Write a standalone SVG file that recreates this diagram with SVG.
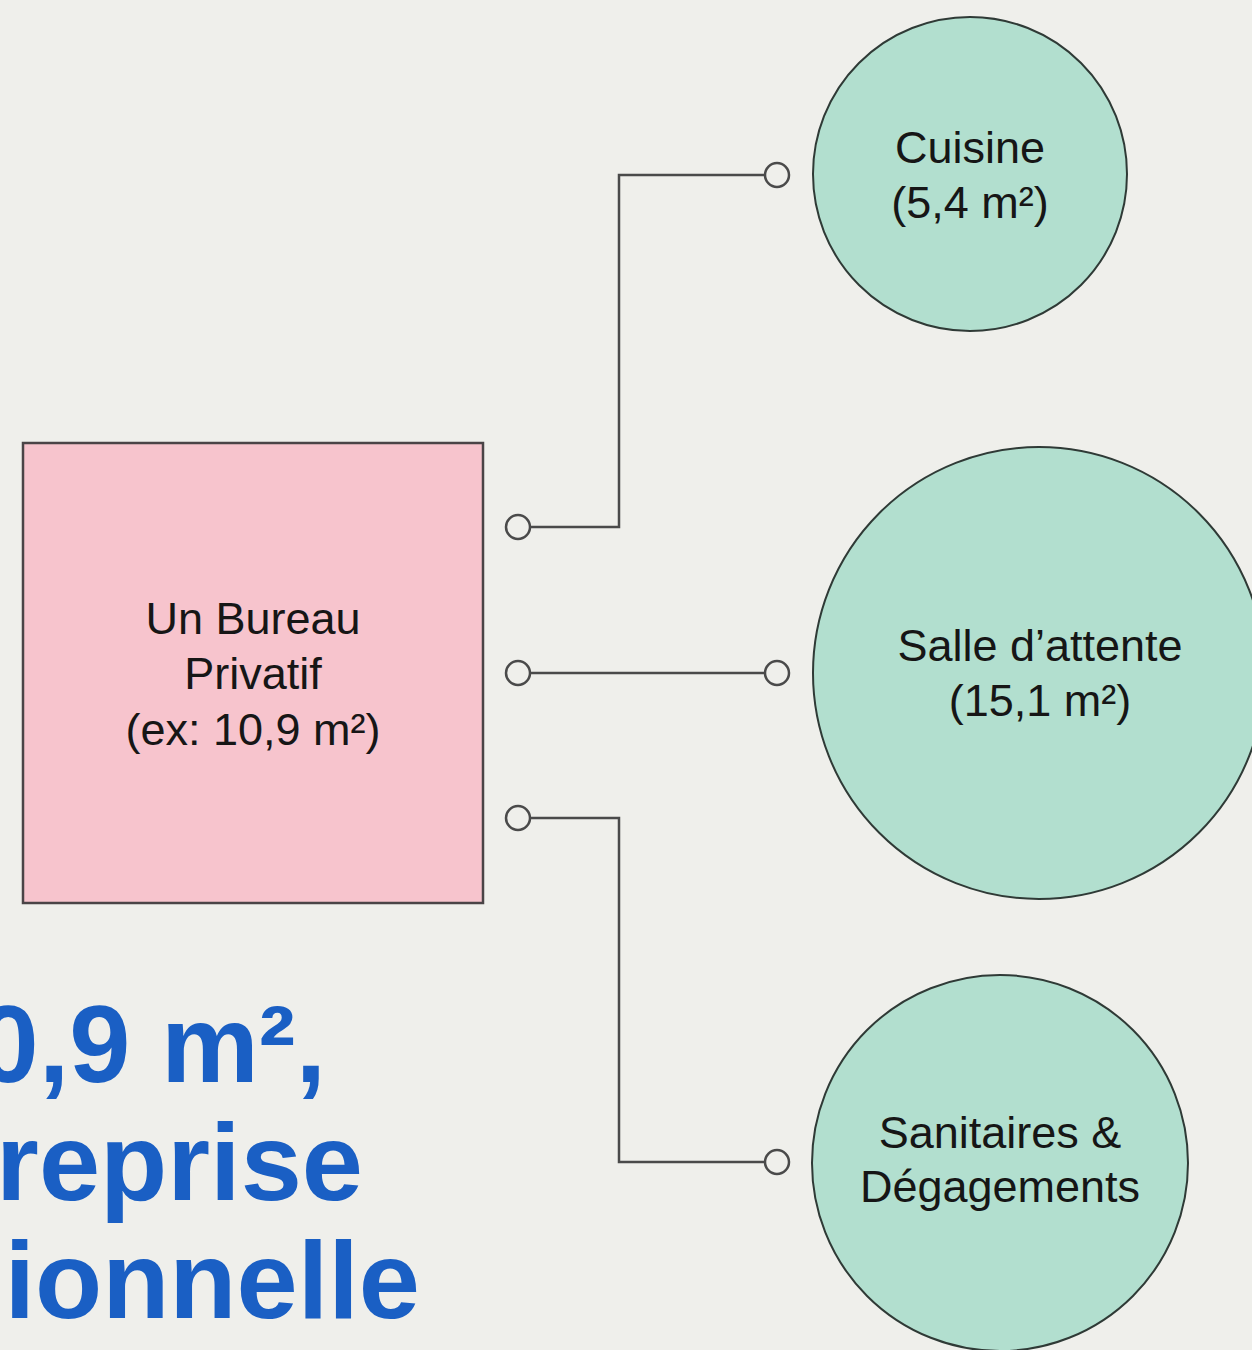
<svg xmlns="http://www.w3.org/2000/svg" width="1252" height="1350" viewBox="0 0 1252 1350">
<style>
.bg{fill:#efefeb}
.room{fill:#b2dfcf;stroke:#2f3a36;stroke-width:2}
.office{fill:#f7c4cd;stroke:#4a4446;stroke-width:2.5}
.lbl{font-family:"Liberation Sans",Arial,sans-serif;font-size:45px;fill:#161616;text-anchor:middle}
.wire{fill:none;stroke:#4a4a4a;stroke-width:2.5}
.port{fill:#efefeb;stroke:#4a4a4a;stroke-width:2.5}
.big{font-family:"Liberation Sans",Arial,sans-serif;font-weight:bold;font-size:110px;fill:#1a5fc4;text-anchor:end}
</style>
<rect class="bg" x="0" y="0" width="1252" height="1350"/>
<g id="title">
<text class="big" x="326" y="1082">0,9 m²,</text>
<text class="big" x="363" y="1200">reprise</text>
<text class="big" x="420" y="1318">ionnelle</text>
</g>
<g id="connectors">
<polyline class="wire" points="530,527 619,527 619,175 765,175"/>
<line class="wire" x1="530" y1="673" x2="765" y2="673"/>
<polyline class="wire" points="530,818 619,818 619,1162 765,1162"/>
<circle class="port" cx="518" cy="527" r="12"/>
<circle class="port" cx="518" cy="673" r="12"/>
<circle class="port" cx="518" cy="818" r="12"/>
<circle class="port" cx="777" cy="175" r="12"/>
<circle class="port" cx="777" cy="673" r="12"/>
<circle class="port" cx="777" cy="1162" r="12"/>
</g>
<g id="bureau">
<rect class="office" x="23" y="443" width="460" height="460"/>
<text class="lbl" x="253" y="634">Un Bureau</text>
<text class="lbl" x="253" y="689">Privatif</text>
<text class="lbl" x="253" y="745">(ex: 10,9 m²)</text>
</g>
<g id="cuisine">
<circle class="room" cx="970" cy="174" r="157"/>
<text class="lbl" x="970" y="163">Cuisine</text>
<text class="lbl" x="970" y="218">(5,4 m²)</text>
</g>
<g id="salle">
<circle class="room" cx="1039" cy="673" r="226"/>
<text class="lbl" x="1040" y="661">Salle d’attente</text>
<text class="lbl" x="1040" y="716">(15,1 m²)</text>
</g>
<g id="sanitaires">
<circle class="room" cx="1000" cy="1163" r="188"/>
<text class="lbl" x="1000" y="1148">Sanitaires &amp;</text>
<text class="lbl" x="1000" y="1202">Dégagements</text>
</g>
</svg>
